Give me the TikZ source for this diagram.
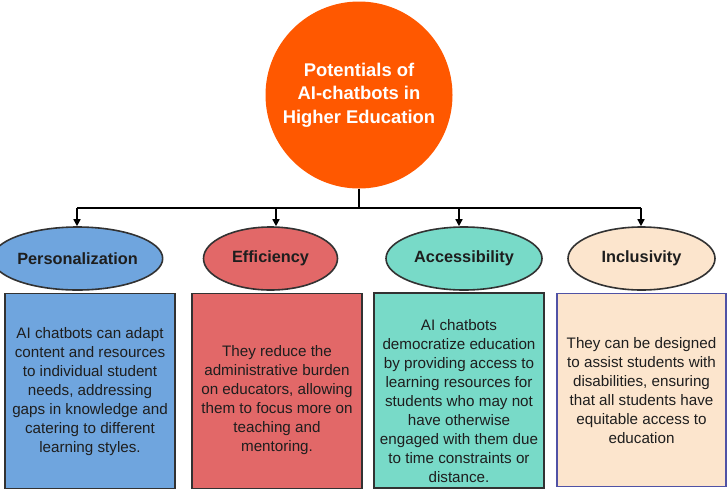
\documentclass[tikz,border=0pt]{standalone}
\usepackage{fontspec}
\setmainfont{Liberation Sans}
\usetikzlibrary{shapes.geometric,arrows.meta}
\definecolor{corange}{RGB}{255,88,0}
\definecolor{cblue}{RGB}{111,165,222}
\definecolor{cred}{RGB}{226,104,104}
\definecolor{cteal}{RGB}{120,218,200}
\definecolor{cpeach}{RGB}{252,229,205}
\definecolor{cedge}{RGB}{50,50,50}
\definecolor{cpurple}{RGB}{80,82,165}
\definecolor{ctext}{RGB}{30,30,30}
\tikzset{
  oval/.style={ellipse, draw=cedge, line width=1.6pt, minimum width=#1, minimum height=63pt, inner sep=0pt, font=\fontsize{16.3}{18}\selectfont\bfseries, text=ctext},
  box/.style={draw=cedge, line width=1.6pt, minimum width=170pt, minimum height=195pt, inner sep=0pt},
  body/.style={align=center, font=\fontsize{15.2}{19}\selectfont, text=ctext, inner sep=0pt},
  conn/.style={line width=1.5pt, black},
  arr/.style={conn, -{Triangle[length=7pt,width=7pt]}}
}
\begin{document}
\begin{tikzpicture}[x=1pt,y=-1pt]
\useasboundingbox (0,0) rectangle (727,491);
\fill[white] (0,0) rectangle (727,491);
% central circle
\node[circle, fill=corange, minimum size=187pt, inner sep=0pt, align=center, text=white, font=\fontsize{18.4}{23.5}\selectfont\bfseries] (hub) at (359,95) {Potentials of\\AI-chatbots in\\Higher Education};
% branching
\coordinate (j) at (359,208);
\coordinate (l1) at (77,208);
\coordinate (l2) at (276,208);
\coordinate (l3) at (459,208);
\coordinate (l4) at (641,208);
% ellipses
\node[oval=149pt, fill=cblue] (e1) at (77.5,258.5) {Personalization};
\node[oval=134pt, fill=cred] (e2) at (270.5,258.5) {Efficiency};
\node[oval=156pt, fill=cteal] (e3) at (464,258.5) {Accessibility};
\node[oval=147pt, fill=cpeach] (e4) at (641.5,258.5) {Inclusivity};
\draw[conn] (hub.south) -- (j);
\draw[conn] (l1) -- (l4);
\draw[arr] (l1) -- (l1 |- e1.north);
\draw[arr] (l2) -- (l2 |- e2.north);
\draw[arr] (l3) -- (l3 |- e3.north);
\draw[arr] (l4) -- (l4 |- e4.north);
% boxes
\node[box, fill=cblue] (b1) at (90,391) {};
\node[box, fill=cred] (b2) at (277,391) {};
\node[box, fill=cteal] (b3) at (459,390.5) {};
\node[box, fill=cpeach, draw=cpurple, minimum width=169pt, minimum height=193pt] (b4) at (641.5,390) {};
\node[body] (t1) at (90,392) {AI chatbots can adapt\\content and resources\\to individual student\\needs, addressing\\gaps in knowledge and\\catering to different\\learning styles.};
\node[body] (t2) at (277,400) {They reduce the\\administrative burden\\on educators, allowing\\them to focus more on\\teaching and\\mentoring.};
\node[body] (t3) at (459,401) {AI chatbots\\democratize education\\by providing access to\\learning resources for\\students who may not\\have otherwise\\engaged with them due\\to time constraints or\\distance.};
\node[body] (t4) at (641.5,391) {They can be designed\\to assist students with\\disabilities, ensuring\\that all students have\\equitable access to\\education};
\end{tikzpicture}
\end{document}
